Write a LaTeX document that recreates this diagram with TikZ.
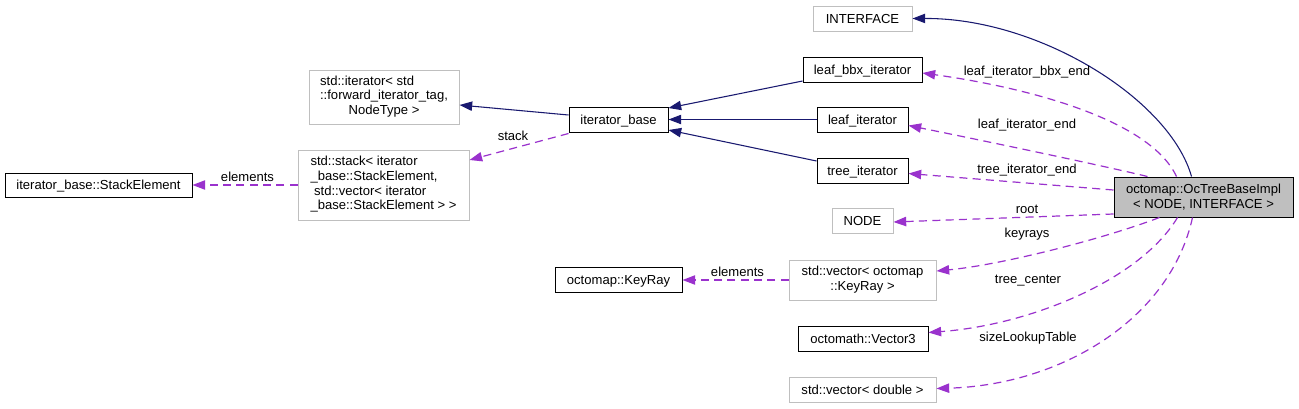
\documentclass[tikz,border=0pt]{standalone}
\usepackage{fontspec}
\setmainfont{Liberation Sans}
\usetikzlibrary{arrows.meta,calc}
\definecolor{navy}{HTML}{191970}
\definecolor{orchid}{HTML}{9A32CD}
\definecolor{gseventyfive}{HTML}{BFBFBF}
\begin{document}
\begin{tikzpicture}[x=0.75pt,y=-0.75pt,
  font=\fontsize{9.8}{11}\selectfont,
  sz/.style 2 args={minimum width={0.75pt*#1}, minimum height={0.75pt*#2}},
  boxbase/.style={draw, line width=0.75pt, inner sep=0pt, align=center},
  oneline/.style={text height=7pt, text depth=0pt},
  cls/.style={boxbase, draw=black},
  ext/.style={boxbase, draw=gseventyfive},
  lbl/.style={inner sep=0pt, text height=7pt, text depth=0pt},
  inh/.style={draw=navy, line width=0.8pt, -{Triangle[length=9.5pt,width=7pt]}},
  use/.style={draw=orchid, line width=0.9pt, dash pattern=on 6pt off 4pt, -{Triangle[length=9.5pt,width=7pt]}}]
\useasboundingbox (0,0) rectangle (1299,408);
\fill[white] (0,0) rectangle (1299,408);

% nodes
\node[cls, oneline, sz={187}{24}] (SE) at (98.5,185) {iterator\_base::StackElement};
\node[ext, sz={150}{54}] (ITR) at (384,97) {\begin{tabular}{@{}l@{}}std::iterator< std\\::forward\_iterator\_tag,\\\multicolumn{1}{@{}c@{}}{NodeType >}\end{tabular}};
\node[ext, sz={171}{70}] (STK) at (383.5,185) {\begin{tabular}{@{}l@{}}std::stack< iterator\\\_base::StackElement,\\ \ std::vector< iterator\\\multicolumn{1}{@{}c@{}}{\_base::StackElement > >}\end{tabular}};
\node[cls, oneline, sz={99}{25}] (IB) at (618.5,119.5) {iterator\_base};
\node[ext, oneline, sz={99}{25}] (IF) at (862.5,18.5) {INTERFACE};
\node[cls, oneline, sz={119}{25}] (LBB) at (862.5,69.5) {leaf\_bbx\_iterator};
\node[cls, oneline, sz={91}{25}] (LI) at (862.5,119.5) {leaf\_iterator};
\node[cls, oneline, sz={91}{25}] (TI) at (862.5,170.5) {tree\_iterator};
\node[ext, oneline, sz={61}{25}] (ND) at (862.5,221) {NODE};
\node[ext, sz={147}{40}] (VKR) at (862.5,280) {\begin{tabular}{@{}l@{}}std::vector< octomap\\\multicolumn{1}{@{}c@{}}{::KeyRay >}\end{tabular}};
\node[cls, oneline, sz={127}{25}] (KR) at (618.5,280) {octomap::KeyRay};
\node[cls, oneline, sz={130}{25}] (V3) at (863,338.5) {octomath::Vector3};
\node[ext, oneline, sz={147}{25}] (VD) at (862.5,389.5) {std::vector< double >};
\node[cls, fill=gseventyfive, sz={179}{40}] (OT) at (1203.5,197) {octomap::OcTreeBaseImpl\\< NODE, INTERFACE >};

% inheritance
\draw[inh] ($(IB.west)+(0,-4.5)$) -- ($(ITR.east)+(0,8)$);
\draw[inh] ($(LBB.west)+(0,11.5)$) -- ($(IB.east)+(0,-11.5)$);
\draw[inh] (LI.west) -- (IB.east);
\draw[inh] ($(TI.west)+(0,-9.5)$) -- ($(IB.east)+(0,10.5)$);
\draw[inh] ($(OT.north west)+(78,0)$) .. controls (1170,100) and (1040,18) .. (IF.east);

% usage
\draw[use] ($(IB.south west)+(0,1)$) -- ($(STK.east)+(0,-25)$);
\draw[use] (STK.west) -- (SE.east);
\draw[use] (VKR.west) -- (KR.east);
\draw[use] ($(OT.north west)+(63,0)$) .. controls (1150,120) and (1030,88) .. ($(LBB.east)+(0,3.5)$);
\draw[use] ($(OT.north west)+(34,0)$) .. controls (1100,165) and (980,140) .. ($(LI.east)+(0,6)$);
\draw[use] ($(OT.west)+(0,-7)$) -- ($(TI.east)+(0,3)$);
\draw[use] ($(OT.west)+(0,17)$) -- ($(ND.east)+(0,1)$);
\draw[use] ($(OT.south west)+(46,0)$) .. controls (1100,240) and (1000,265) .. ($(VKR.east)+(0,-9)$);
\draw[use] ($(OT.south west)+(64,0)$) .. controls (1140,280) and (1030,325) .. ($(V3.east)+(0,-6)$);
\draw[use] ($(OT.south west)+(79,0)$) .. controls (1170,320) and (1060,385) .. ($(VD.east)+(0,-1)$);

% labels
\node[lbl] (l1) at (247.5,177.3) {elements};
\node[lbl] (l2) at (513,135.5) {stack};
\node[lbl] (l3) at (1027,70.5) {leaf\_iterator\_bbx\_end};
\node[lbl] (l4) at (1027,123.5) {leaf\_iterator\_end};
\node[lbl] (l5) at (1027,168.5) {tree\_iterator\_end};
\node[lbl] (l6) at (1027,208.5) {root};
\node[lbl] (l7) at (1027,232.5) {keyrays};
\node[lbl] (l8) at (1028,278.5) {tree\_center};
\node[lbl] (l9) at (1028,336.5) {sizeLookupTable};
\node[lbl] (l10) at (737.5,271.5) {elements};
\end{tikzpicture}
\end{document}
